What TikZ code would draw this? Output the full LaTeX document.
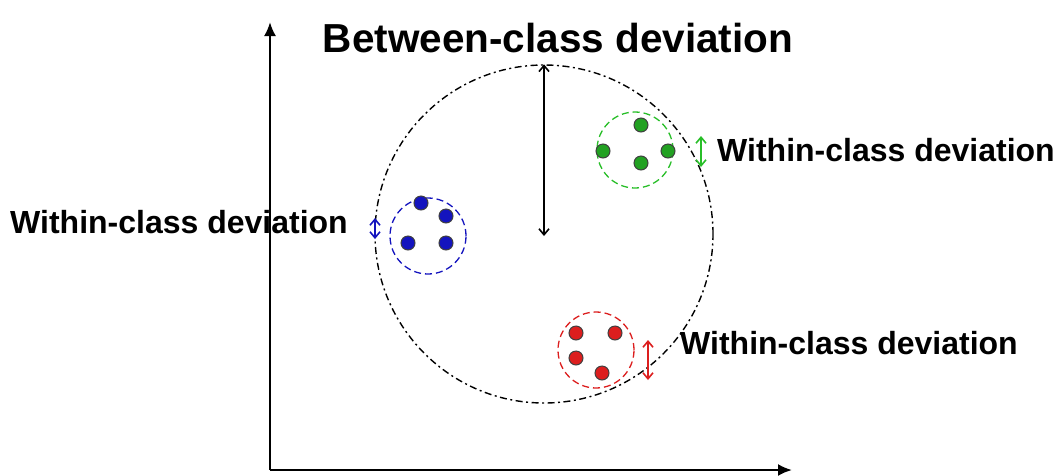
\documentclass[tikz,border=0pt]{standalone}
\usepackage{fontspec}
\setmainfont{Liberation Sans}
\usetikzlibrary{arrows.meta}
\definecolor{cblue}{RGB}{20,20,190}
\definecolor{cgreen}{RGB}{40,190,40}
\definecolor{cred}{RGB}{220,30,30}
\tikzset{
  lbl/.style={font=\fontsize{32}{36}\selectfont\bfseries, inner sep=0pt},
  ttl/.style={font=\fontsize{40.5}{44}\selectfont\bfseries, inner sep=0pt},
  clus/.style={draw, line width=1.3pt, dash pattern=on 7pt off 4pt},
  dot/.style={circle, draw=black!75, line width=1pt, minimum size=14pt, inner sep=0pt},
  dev/.style={line width=1.6pt, {Straight Barb[length=6pt,width=10pt]}-{Straight Barb[length=6pt,width=10pt]}},
  axis/.style={line width=2.2pt, -{Latex[length=14pt,width=12pt]}}
}
\begin{document}
\begin{tikzpicture}[x=1pt,y=-1pt]
\useasboundingbox (0,0) rectangle (1063,475);
% axes
\coordinate (o) at (270,470);
\coordinate (ytip) at (270,22);
\coordinate (xtip) at (792,470);
\draw[axis] (o) -- (ytip);
\draw[axis] (o) -- (xtip);
% big circle
\node (big) [circle, draw, line width=1.4pt, dash pattern=on 7pt off 3.5pt on 2pt off 3.5pt, minimum size=338pt, inner sep=0pt] at (544,234) {};
\coordinate (bc) at (544,236);
\draw[dev] (big.north) -- (bc);
\node[ttl] (title) at (558,38) {Between-class deviation};
% blue cluster
\node (bcl) [circle, clus, draw=cblue, minimum size=76pt, inner sep=0pt] at (428,236) {};
\node[dot, fill=cblue] (b1) at (421,203) {};
\node[dot, fill=cblue] (b2) at (446,216) {};
\node[dot, fill=cblue] (b3) at (408,243) {};
\node[dot, fill=cblue] (b4) at (446,243) {};
\coordinate (ba) at (375,218);
\coordinate (bb) at (375,239);
\draw[dev, cblue] (ba) -- (bb);
\node[lbl, anchor=west] (bl) at (10,222) {Within-class deviation};
% green cluster
\node (gcl) [circle, clus, draw=cgreen, minimum size=76pt, inner sep=0pt] at (635,150) {};
\node[dot, fill=cgreen!85!black] (g1) at (641,125) {};
\node[dot, fill=cgreen!85!black] (g2) at (603,151) {};
\node[dot, fill=cgreen!85!black] (g3) at (668,151) {};
\node[dot, fill=cgreen!85!black] (g4) at (641,163) {};
\coordinate (ga) at (701,136);
\coordinate (gb) at (701,167);
\draw[dev, cgreen] (ga) -- (gb);
\node[lbl, anchor=west] (gl) at (717,150) {Within-class deviation};
% red cluster
\node (rcl) [circle, clus, draw=cred, minimum size=76pt, inner sep=0pt] at (596,350) {};
\node[dot, fill=cred] (r1) at (576,333) {};
\node[dot, fill=cred] (r2) at (615,333) {};
\node[dot, fill=cred] (r3) at (576,358) {};
\node[dot, fill=cred] (r4) at (602,373) {};
\coordinate (ra) at (648,340);
\coordinate (rb) at (648,380);
\draw[dev, cred] (ra) -- (rb);
\node[lbl, anchor=west] (rl) at (680,343) {Within-class deviation};
\end{tikzpicture}
\end{document}
